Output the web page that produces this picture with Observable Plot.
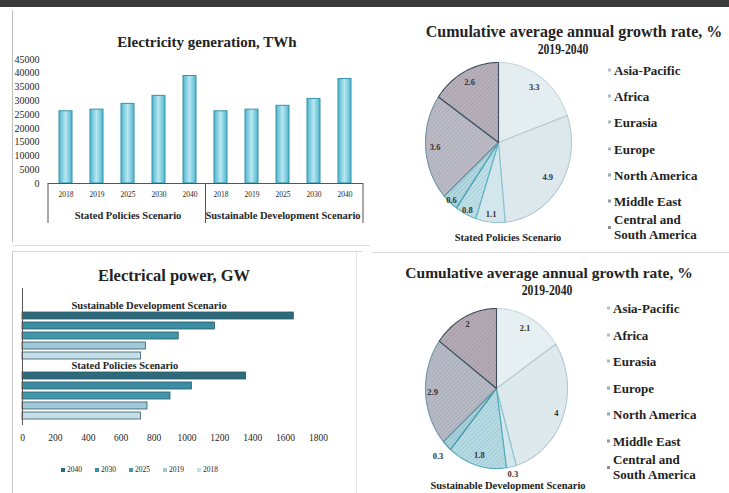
<!DOCTYPE html>
<html><head><meta charset="utf-8">
<script src="https://cdn.jsdelivr.net/npm/d3@7"></script>
<script src="https://cdn.jsdelivr.net/npm/@observablehq/plot@0.6"></script>
<style>
html,body{margin:0;padding:0;background:#fff}
#root{position:relative;width:729px;height:493px;overflow:hidden;background:#fff;font-family:"Liberation Serif","Times New Roman",serif;color:#232323}
#root > *{position:absolute}
.t{font-weight:bold;white-space:nowrap;text-align:center;line-height:1}
</style></head><body><div id="root"></div>
<script>
// ---------- data ----------
const years = ["2018", "2019", "2025", "2030", "2040"];
const scenarios = ["Stated Policies Scenario", "Sustainable Development Scenario"];
const genStated = [26200, 26800, 28900, 31800, 39000];
const genSustainable = [26200, 26800, 28200, 30700, 37900];
const genTicks = [0, 5000, 10000, 15000, 20000, 25000, 30000, 35000, 40000, 45000];

const powerYears = ["2040", "2030", "2025", "2019", "2018"];
const powerSustainable = [1650, 1170, 950, 750, 720];
const powerStated = [1360, 1030, 900, 760, 720];
const powerTicks = [0, 200, 400, 600, 800, 1000, 1200, 1400, 1600, 1800];
const powerColors = ["#2d6a7b", "#3a8da2", "#4096ab", "#a3c9d8", "#c8dee7"];

const regions = ["Asia-Pacific", "Africa", "Eurasia", "Europe", "North America", "Middle East", "Central and South America"];
const growthStated = [3.3, 4.9, 1.1, 0.8, 0.6, 3.6, 2.6];
const growthSustainable = [2.1, 4, 0.3, 1.8, 0.3, 2.9, 2];
const pieTitle = "Cumulative average annual growth rate, %";
const piePeriod = "2019-2040";

const topFills = ["#e4eef1", "#dce8ec", "#d3e6eb", "#c3e0e7", "#b5d7df", "#bcbcc6", "#b8b0ba"];
const topStrokes = ["#c9d8dd", "#b3c8cf", "#8ec5d2", "#5eb3c6", "#4a9fb3", "#6f97a6", "#3f4d5c"];
const botFills = ["#e6eff2", "#dee9ed", "#d4e7ec", "#b9dbe3", "#a9d0da", "#b7bcc6", "#b4abb5"];
const botStrokes = ["#c9d8dd", "#b3c8cf", "#8ec5d2", "#4fa9bd", "#3f95aa", "#6f97a6", "#3f4d5c"];

const SERIF = "'Liberation Serif','Times New Roman',serif";
const root = document.getElementById("root");

function add(el, l, t) { el.style.left = l + "px"; el.style.top = t + "px"; root.appendChild(el); return el; }
function rect(l, t, w, h, bg) { const d = document.createElement("div"); d.style.width = w + "px"; d.style.height = h + "px"; d.style.background = bg; return add(d, l, t); }
function label(str, cx, cy, size, extra) {
  const d = document.createElement("div"); d.className = "t"; d.style.fontSize = size + "px";
  d.style.width = "400px"; d.textContent = str; add(d, cx - 200, cy - size / 2);
  if (extra) Object.assign(d.style, extra);
  return d;
}

// ---------- frame ----------
rect(0, 0, 729, 7, "#3a3a3a");
rect(12, 10, 1, 232, "#bdbdbd");
rect(12, 245, 358, 1, "#dedede");
rect(12, 251, 350, 1, "#d5d5d5");
rect(12, 251, 1, 242, "#c8c8c8");
rect(356, 252, 1, 241, "#e6e6e6");
rect(372, 252, 357, 1, "#dadada");

// ---------- Electricity generation (top-left) ----------
const genRows = [];
scenarios.forEach((s, si) => years.forEach((yr, i) =>
  genRows.push({key: s + "|" + yr, scenario: s, year: yr, value: (si === 0 ? genStated : genSustainable)[i]})));
const genKeys = genRows.map(d => d.key);

const gen = Plot.plot({
  width: 370, height: 245,
  marginLeft: 48, marginRight: 7, marginTop: 59, marginBottom: 62,
  style: {fontFamily: SERIF, fontSize: "10px", color: "#262626", background: "none", overflow: "visible"},
  x: {type: "band", domain: genKeys, paddingInner: 0.58, paddingOuter: 0.29, tickSize: 0, tickPadding: 8,
      tickFormat: k => k.split("|")[1], label: null},
  y: {domain: [0, 45000], ticks: genTicks, tickSize: 0, tickPadding: 9, tickFormat: d => String(d), label: null},
  marks: [
    Plot.barY(genRows, {x: "key", y: "value", fill: "url(#genGrad)", stroke: "#3592aa", strokeWidth: 1}),
    Plot.ruleY([0], {stroke: "#555", strokeWidth: 1}),
    Plot.text(scenarios, {x: s => s + "|2025", text: d => d, frameAnchor: "bottom", dy: 35,
      fontSize: 10.5, fontWeight: "bold", fill: "#262626"})
  ]
});
add(gen, 0, 0);
{
  const svg = d3.select(gen);
  const defs = svg.insert("defs", ":first-child");
  const g = defs.append("linearGradient").attr("id", "genGrad").attr("x1", 0).attr("x2", 1).attr("y1", 0).attr("y2", 0);
  g.append("stop").attr("offset", "0").attr("stop-color", "#4fb6cf");
  g.append("stop").attr("offset", "0.5").attr("stop-color", "#b8e7f1");
  g.append("stop").attr("offset", "1").attr("stop-color", "#4fb6cf");
  svg.selectAll('g[aria-label^="x-axis"] text').attr("font-size", "7.5px");
  const xs = gen.scale("x"), ys = gen.scale("y");
  const band = d3.scaleBand(xs.domain, xs.range).paddingInner(xs.paddingInner).paddingOuter(xs.paddingOuter).align(xs.align ?? 0.5);
  const y0 = d3.scaleLinear(ys.domain, ys.range)(0);
  const half = (band.step() - band.bandwidth()) / 2;
  const bounds = [band(genKeys[0]) - half, band(genKeys[5]) - half, band(genKeys[9]) + band.bandwidth() + half];
  bounds.forEach(x => svg.append("line").attr("x1", x).attr("x2", x).attr("y1", y0).attr("y2", y0 + 40)
    .attr("stroke", "#555").attr("stroke-width", 1));
}
label("Electricity generation, TWh", 207, 42, 15);

// ---------- Electrical power (bottom-left) ----------
const groupOrder = [["Sustainable Development Scenario", powerSustainable], ["Stated Policies Scenario", powerStated]];
const powerRows = [], rowKeys = [];
groupOrder.forEach(([s, vals]) => {
  rowKeys.push(s);
  powerYears.forEach((yr, i) => { const k = s + "|" + yr; rowKeys.push(k); powerRows.push({key: k, scenario: s, year: yr, value: vals[i]}); });
});
const power = Plot.plot({
  width: 365, height: 243,
  marginLeft: 22, marginRight: 47, marginTop: 38, marginBottom: 68,
  style: {fontFamily: SERIF, fontSize: "9.5px", color: "#262626", background: "none", overflow: "visible"},
  x: {domain: [0, 1800], ticks: powerTicks, tickSize: 0, tickPadding: 9, tickFormat: d => String(d), label: null},
  y: {type: "band", domain: rowKeys, paddingInner: 0.3, paddingOuter: 1, align: 0.675, axis: null},
  color: {domain: powerYears, range: powerColors},
  marks: [
    Plot.barX(powerRows, {y: "key", x: "value", fill: "year", stroke: "#2a5b6a", strokeWidth: 0.8}),
    Plot.ruleX([0], {stroke: "#555"}),
    Plot.text(groupOrder.map(g => g[0]), {y: d => d, text: d => d, frameAnchor: "left", dx: 49, textAnchor: "start",
      fontSize: 10.5, fontWeight: "bold", fill: "#262626"})
  ]
});
add(power, 0, 250);
label("Electrical power, GW", 174, 276, 16.5);
{
  const lg = document.createElement("div");
  lg.style.cssText = "display:flex;gap:0;font-size:7.5px;line-height:1;white-space:nowrap";
  powerYears.forEach((yr, i) => {
    const it = document.createElement("div");
    it.style.cssText = "display:flex;align-items:center;width:34px";
    const sw = document.createElement("span");
    sw.style.cssText = `display:inline-block;width:4px;height:4px;margin-right:2px;background:${powerColors[i]}`;
    it.appendChild(sw); it.appendChild(document.createTextNode(yr));
    lg.appendChild(it);
  });
  add(lg, 61, 466);
}

// ---------- pies ----------
function pieChart(values, fills, strokes, hatch, labelR, rx, ry, uid) {
  const pad = 20;
  const arcs = d3.pie().sort(null).value(d => d)(values);
  const slices = arcs.map((a, i) => {
    const n = Math.max(2, Math.ceil((a.endAngle - a.startAngle) / 0.03));
    const pts = [{x: 0, y: 0}];
    for (let k = 0; k <= n; k++) {
      const t = a.startAngle + (a.endAngle - a.startAngle) * k / n;
      pts.push({x: Math.sin(t), y: Math.cos(t)});
    }
    pts.push({x: 0, y: 0});
    return pts;
  });
  const labels = arcs.map((a, i) => {
    const m = (a.startAngle + a.endAngle) / 2, r = labelR[i];
    return {x: r * Math.sin(m), y: r * Math.cos(m), text: String(values[i])};
  });
  const marks = [];
  slices.forEach((pts, i) => marks.push(Plot.line(pts, {x: "x", y: "y", fill: fills[i], stroke: "none"})));
  slices.forEach((pts, i) => { if (hatch[i]) marks.push(Plot.line(pts, {x: "x", y: "y", fill: `url(#${uid}${hatch[i]})`, stroke: "none"})); });
  slices.forEach((pts, i) => marks.push(Plot.line(pts, {x: "x", y: "y", stroke: strokes[i], strokeWidth: 1.1})));
  marks.push(Plot.text(labels, {x: "x", y: "y", text: "text", fontSize: 8.5, fontWeight: "bold", fill: "#333"}));
  const svg = Plot.plot({
    width: 2 * rx + 2 * pad, height: 2 * ry + 2 * pad,
    margin: pad,
    style: {fontFamily: SERIF, background: "none", overflow: "visible"},
    x: {domain: [-1, 1], axis: null},
    y: {domain: [-1, 1], axis: null},
    marks
  });
  const s = d3.select(svg);
  const defs = s.insert("defs", ":first-child");
  [["g", "rgba(105,95,120,0.32)"], ["b", "rgba(60,150,172,0.35)"]].forEach(([k, c]) => {
    const p = defs.append("pattern").attr("id", uid + k).attr("patternUnits", "userSpaceOnUse")
      .attr("width", 3).attr("height", 3).attr("patternTransform", "rotate(45)");
    p.append("line").attr("x1", 0).attr("y1", 0).attr("x2", 0).attr("y2", 3).attr("stroke", c).attr("stroke-width", 1.2);
  });
  return svg;
}

function pieLegend(x, y0, step, fills) {
  regions.forEach((r, i) => {
    const d = document.createElement("div");
    d.style.cssText = "display:flex;align-items:center;font-size:13px;font-weight:bold;line-height:15px;transform:translateY(-50%)";
    const sw = document.createElement("span");
    sw.style.cssText = `display:inline-block;flex:none;width:3px;height:3px;margin-right:3px;background:${d3.color(fills[i]).darker(0.6)}`;
    const tx = document.createElement("span");
    tx.style.cssText = "max-width:95px";
    tx.textContent = r;
    d.appendChild(sw); d.appendChild(tx);
    add(d, x, y0 + i * step);
  });
}

const hatchTop = [null, null, null, "b", "b", "g", "g"];
const pieTop = pieChart(growthStated, topFills, topStrokes, hatchTop, [0.85, 0.8, 0.9, 0.95, 0.97, 0.87, 0.85], 73, 80, "pt");
add(pieTop, 498 - 73 - 20, 142 - 80 - 20);
label(pieTitle, 574, 32, 16);
label(piePeriod, 563, 49, 15, {transform: "scaleX(0.78)"});
label(scenarios[0], 508, 238, 10.5);
pieLegend(608, 70, 26.2, topFills);

const pieBot = pieChart(growthSustainable, botFills, botStrokes, hatchTop, [0.85, 0.9, 1.1, 0.87, 1.18, 0.9, 0.9], 71, 80, "pb");
add(pieBot, 496 - 71 - 20, 388 - 80 - 20);
label(pieTitle, 549, 273, 15.5);
label(piePeriod, 547, 290, 15, {transform: "scaleX(0.78)"});
label(scenarios[1], 508, 486, 10.5);
pieLegend(607, 308, 26.5, botFills);
</script></body></html>
